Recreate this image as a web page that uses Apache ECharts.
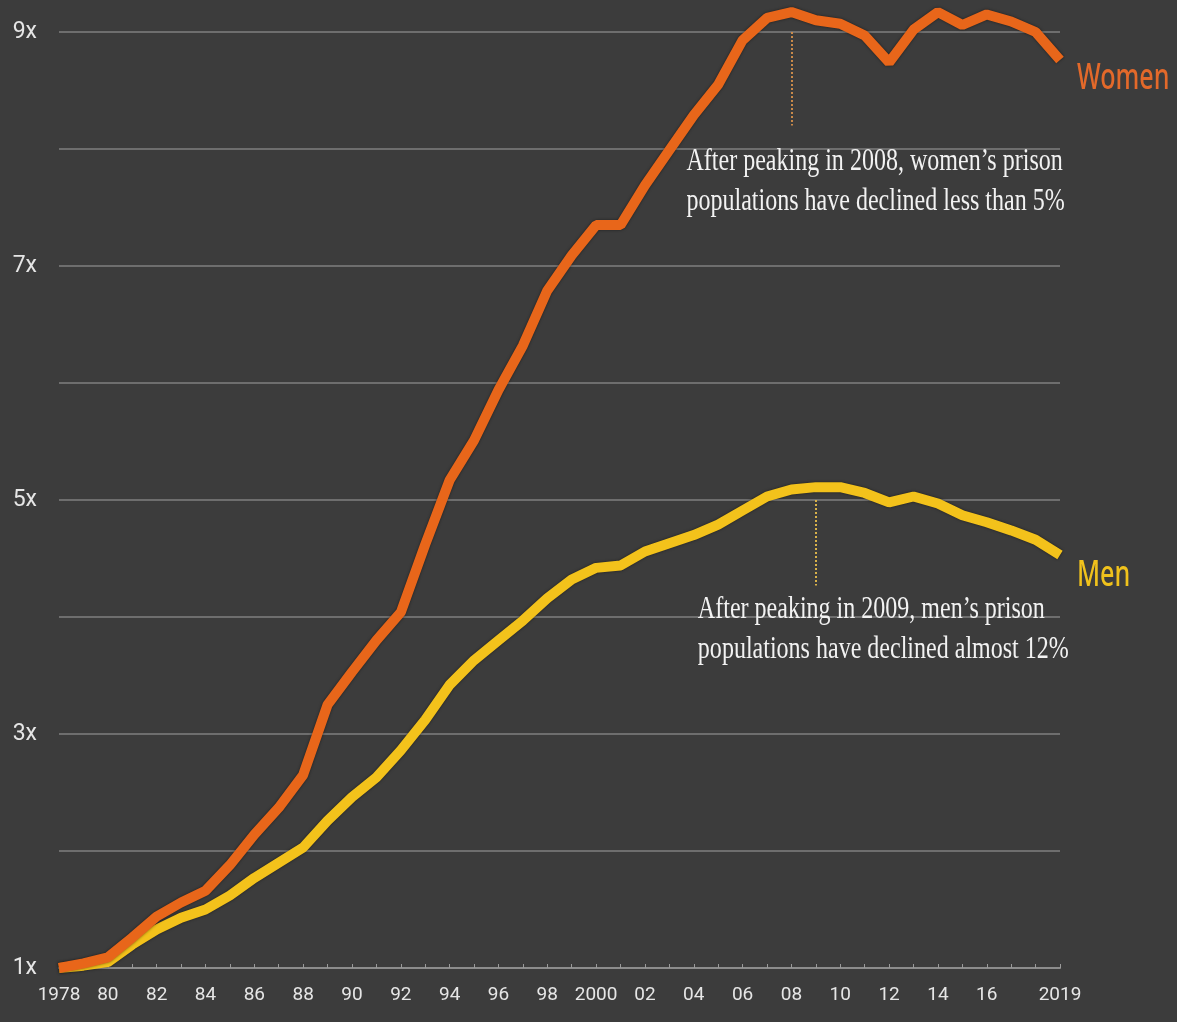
<!DOCTYPE html>
<html>
<head>
<meta charset="utf-8">
<style>
html,body{margin:0;padding:0;background:#3c3c3c;}
#chart{width:1177px;height:1022px;}
</style>
<script src="https://cdn.jsdelivr.net/npm/echarts@6/dist/echarts.min.js"></script>
</head>
<body>
<div id="chart"></div>
<script>
const years = ['1978','1979','1980','1981','1982','1983','1984','1985','1986','1987','1988','1989','1990','1991','1992','1993','1994','1995','1996','1997','1998','1999','2000','2001','2002','2003','2004','2005','2006','2007','2008','2009','2010','2011','2012','2013','2014','2015','2016','2017','2018','2019'];
const women = [1.00,1.04,1.09,1.26,1.44,1.56,1.66,1.88,2.14,2.37,2.65,3.25,3.53,3.80,4.04,4.62,5.17,5.51,5.94,6.32,6.79,7.09,7.35,7.35,7.69,7.99,8.29,8.55,8.93,9.12,9.17,9.10,9.07,8.97,8.74,9.02,9.17,9.06,9.15,9.09,9.00,8.76];
const men = [1.00,1.02,1.05,1.20,1.33,1.43,1.50,1.62,1.77,1.90,2.03,2.26,2.46,2.63,2.86,3.12,3.42,3.63,3.80,3.97,4.16,4.32,4.42,4.44,4.56,4.63,4.70,4.79,4.91,5.03,5.09,5.11,5.11,5.06,4.98,5.03,4.97,4.87,4.81,4.74,4.66,4.53];
const yTickLabels = {1:'1x',3:'3x',5:'5x',7:'7x',9:'9x'};
const seriesNames = ['Women', 'Men'];
const womenNote = ['After peaking in 2008, women\u2019s prison', 'populations have declined less than 5%'];
const menNote = ['After peaking in 2009, men\u2019s prison', 'populations have declined almost 12%'];

const SANS = 'Roboto,"Noto Sans",sans-serif';
const WOMEN_COLOR = '#e8661a';
const MEN_COLOR = '#f3c21b';
const chart = echarts.init(document.getElementById('chart'));
const option = {
  backgroundColor: '#3c3c3c',
  animation: false,
  grid: {left: 59, right: 117, top: 32, bottom: 54},
  xAxis: {
    type: 'category',
    data: years,
    boundaryGap: false,
    axisLine: {lineStyle: {color: '#8c8c8c', width: 2}},
    axisTick: {show: true, interval: 0, length: 4, inside: true, lineStyle: {color: '#9a9a9a', width: 1}},
    axisLabel: {
      color: '#e6e6e6',
      fontFamily: SANS,
      fontSize: 19,
      margin: 18,
      interval: function (i, v) { const y = +v; return (y % 2 === 0 && y !== 2018) || y === 2019; },
      formatter: function (v) { return (v === '1978' || v === '2000' || v === '2019') ? v : v.slice(2); }
    },
    splitLine: {show: false}
  },
  yAxis: {
    type: 'value',
    min: 1, max: 9, interval: 1,
    axisLine: {show: false},
    axisTick: {show: false},
    axisLabel: {
      color: '#e6e6e6', fontFamily: SANS, fontSize: 23, margin: 22,
      formatter: function (v) { return yTickLabels[v] || ''; }
    },
    splitLine: {lineStyle: {color: '#6e6e6e', width: 2}}
  },
  series: [
    {
      name: seriesNames[1], type: 'line', data: men, symbol: 'none', clip: false,
      lineStyle: {color: MEN_COLOR, width: 10, shadowColor: 'rgba(0,0,0,0.5)', shadowBlur: 3},
      itemStyle: {color: MEN_COLOR},
      markLine: {
        silent: true, symbol: 'none',
        lineStyle: {color: '#d9b24a', type: 'dotted', width: 2},
        label: {show: false},
        data: [[{coord: ['2009', 5.0]}, {coord: ['2009', 4.27]}]]
      }
    },
    {
      name: seriesNames[0], type: 'line', data: women, symbol: 'none', clip: false,
      lineStyle: {color: WOMEN_COLOR, width: 10, shadowColor: 'rgba(0,0,0,0.5)', shadowBlur: 3},
      itemStyle: {color: WOMEN_COLOR},
      markLine: {
        silent: true, symbol: 'none',
        lineStyle: {color: '#c98a4a', type: 'dotted', width: 2},
        label: {show: false},
        data: [[{coord: ['2008', 9.0]}, {coord: ['2008', 8.2]}]]
      }
    }
  ]
};
chart.setOption(option);

function noteGraphic(lines, anchorYear, anchorVal, dx, dy) {
  const p = chart.convertToPixel({gridIndex: 0}, [anchorYear, anchorVal]);
  return {
    type: 'text', x: p[0] + dx, y: p[1] + dy, scaleX: 0.775, scaleY: 1, z: 100,
    style: {
      text: lines.join('\n'),
      font: '31px "Liberation Serif","DejaVu Serif",serif',
      fill: '#f2f2f2', lineHeight: 40, textVerticalAlign: 'top', textAlign: 'left'
    }
  };
}
function endLabel(name, values, color, dy) {
  const last = values.length - 1;
  const p = chart.convertToPixel({gridIndex: 0}, [years[last], values[last]]);
  return {
    type: 'text', x: p[0] + 17, y: p[1] + dy, scaleX: 0.68, scaleY: 1, z: 100,
    style: {
      text: name, font: '500 37px "Noto Sans",Roboto,sans-serif',
      fill: color, textVerticalAlign: 'middle', textAlign: 'left'
    }
  };
}
chart.setOption({
  graphic: [
    noteGraphic(womenNote, '2008', 8.2, -105, 16),
    noteGraphic(menNote, '2009', 4.27, -118, 4),
    endLabel(seriesNames[0], women, '#e3692a', 18),
    endLabel(seriesNames[1], men, '#f0c21c', 20)
  ]
});
</script>
</body>
</html>
